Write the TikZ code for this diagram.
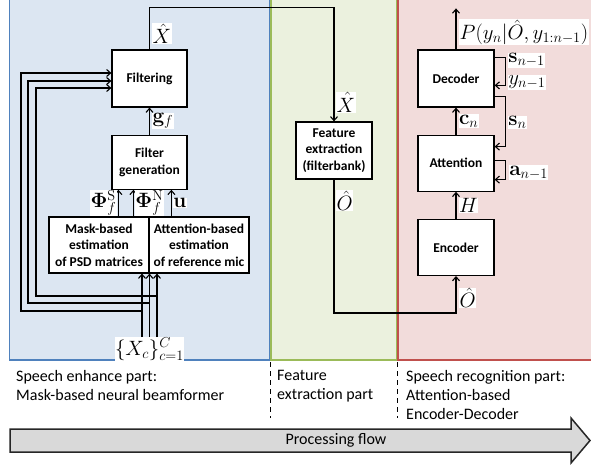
\documentclass[tikz,border=0pt]{standalone}
\usepackage[no-math]{fontspec}
\setmainfont{Carlito}
\usetikzlibrary{positioning,calc,arrows.meta}
\definecolor{enhfill}{HTML}{DCE6F2}
\definecolor{enhline}{HTML}{4F81BD}
\definecolor{featfill}{HTML}{EBF1DE}
\definecolor{featline}{HTML}{9BBB59}
\definecolor{recfill}{HTML}{F2DCDB}
\definecolor{recline}{HTML}{C0504D}
\definecolor{flowfill}{HTML}{D9D9D9}
\def\boxfont{\fontsize{13.5}{16.5}\selectfont\bfseries}
\def\partfont{\fontsize{16}{19}\selectfont}
\def\mathfont{\fontsize{20}{24}\selectfont}

\begin{document}
\begin{tikzpicture}[x=1pt, y=-1pt,
  blk/.style={draw, fill=white, line width=1.2pt, align=center, font=\boxfont, inner sep=0pt},
  lbl/.style={fill=white, inner sep=0.5pt, font=\mathfont},
  wire/.style={line width=1.1pt, -{Straight Barb[length=4pt,width=7pt]}},
  part/.style={anchor=north west, align=left, inner sep=0pt, font=\partfont}]
\useasboundingbox (0,0) rectangle (591,465);

\fill[enhfill] (9.5,-5) rectangle (269.5,360);
\draw[enhline, line width=1.5pt] (9.5,-5) |- (269.5,360) -- (269.5,-5);
\fill[featfill] (271,-5) rectangle (396.5,360);
\draw[featline, line width=1.5pt] (271,-5) |- (396.5,360) -- (396.5,-5);
\fill[recfill] (398,-5) rectangle (600,360);
\draw[recline, line width=1.5pt] (398,-5) |- (600,360);

\node[blk, minimum width=75, minimum height=57] (filt) at (149.5,78.5) {Filtering};
\node[blk, minimum width=75, minimum height=54, below=27pt of filt] (fgen) {Filter\\generation};
\node[blk, minimum width=100, minimum height=56] (mask) at (99,245) {Mask-based\\estimation\\of PSD matrices};
\node[blk, minimum width=100, minimum height=56, right=-1.2pt of mask] (refmic) {Attention-based\\estimation\\of reference mic};
\node[lbl] (xs) at (149.5,349) {$\{X_c\}_{c=1}^{C}$};

\coordinate (in1) at ($(xs.north)+(-7.5,0)$);
\coordinate (in2) at (xs.north);
\coordinate (in3) at ($(xs.north)+(7.5,0)$);
\foreach \src in {in1,in2,in3}
  \draw[wire] (\src) -- (\src |- mask.south);
\foreach \src/\x/\yb/\yt in {in1/21/311/73, in2/28/303/81, in3/36/296/88}
  \draw[wire] (\src |- 0,\yb) -| (\x,\yt) -- (filt.west |- 0,\yt);

\coordinate (phis) at ($(fgen.south west)+(7,0)$);
\coordinate (phin) at ($(fgen.south west)+(22,0)$);
\coordinate (refu) at ($(fgen.south west)+(60,0)$);
\draw[wire] (phis |- mask.north) -- node[lbl, left=1pt] (phislbl) {$\mathbf{\Phi}_f^{\mathrm{S}}$} (phis);
\draw[wire] (phin |- mask.north) -- node[lbl, right=1pt] (phinlbl) {$\mathbf{\Phi}_f^{\mathrm{N}}$} (phin);
\draw[wire] (refu |- mask.north) -- node[lbl, right=1pt] (refulbl) {$\mathbf{u}$} (refu);
\draw[wire] (fgen) -- node[lbl, right=2pt] (gflbl) {$\mathbf{g}_f$} (filt);

\node[blk, minimum width=76, minimum height=57] (feat) at (334,150.5) {Feature\\extraction\\(filterbank)};
\draw[wire] (filt.north) -- node[lbl, right=2pt, pos=0.38] (xhatlbl) {$\hat{X}$} ++(0,-42) -| (feat);
\node[lbl, anchor=west] (xhatin) at ($(feat.north)+(2,-19)$) {$\hat{X}$};

\node[blk, minimum width=76, minimum height=57] (dec) at (456,78.5) {Decoder};
\node[blk, minimum width=76, minimum height=56, below=27pt of dec] (att) {Attention};
\node[blk, minimum width=76, minimum height=56, below=27pt of att] (enc) {Encoder};

\draw[wire] (feat) |- ($(enc.south)+(0,37)$) -- (enc);
\node[lbl, anchor=west] (ohatout) at ($(feat.south)+(2,21)$) {$\hat{O}$};
\node[lbl, anchor=west] (ohatin) at ($(enc.south)+(3,22)$) {$\hat{O}$};

\draw[wire] (enc) -- node[lbl, right=2pt] (hlbl) {$H$} (att);
\draw[wire] (att) -- node[lbl, right=2pt] (cnlbl) {$\mathbf{c}_n$} (dec);
\draw[wire] (dec.north) -- ++(0,-41);
\node[lbl, anchor=west] (postlbl) at ($(dec.north)+(3,-17)$) {$P(y_n|\hat{O},y_{1:n-1})$};

\draw[wire] ($(dec.north east)+(0,8)$) -- ++(11,0) |- ($(dec.north east)+(0,36)$);
\node[lbl, anchor=west] (snmlbl) at ($(dec.north east)+(13,11)$) {$\mathbf{s}_{n-1}$};
\node[lbl, anchor=west] (ynmlbl) at ($(dec.north east)+(13,33)$) {$y_{n-1}$};
\draw[wire] ($(dec.south east)+(0,-11)$) -- ++(11,0) |- ($(att.north east)+(0,12)$);
\node[lbl, anchor=west] (snlbl) at ($(dec.south east)+(13,15)$) {$\mathbf{s}_n$};
\draw[wire] ($(att.north east)+(0,26)$) -- ++(11,0) |- ($(att.north east)+(0,45)$);
\node[lbl, anchor=west] (anmlbl) at ($(att.north east)+(14,38)$) {$\mathbf{a}_{n-1}$};

\node[part] (enhtxt) at (16,370) {Speech enhance part:\\Mask-based neural beamformer};
\node[part] (feattxt) at (277,370) {Feature\\extraction part};
\node[part] (rectxt) at (406,370) {Speech recognition part:\\Attention-based\\Encoder-Decoder};
\draw[line width=0.8pt, dash pattern=on 5pt off 4pt] (270,362) -- (270,418);
\draw[line width=0.8pt, dash pattern=on 5pt off 4pt] (397,362) -- (397,418);

\draw[fill=flowfill, line width=1.5pt, draw=black!85] (10,429) -- (571,429) -- (571,418) -- (590,440.5) -- (571,463) -- (571,452) -- (10,452) -- cycle;
\node[font=\partfont] (flow) at (336,440.5) {Processing flow};
\end{tikzpicture}
\end{document}
